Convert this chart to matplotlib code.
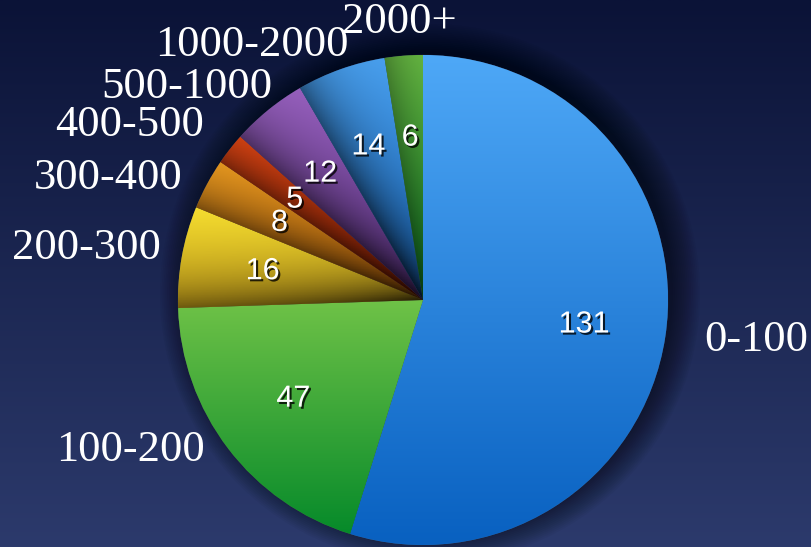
import numpy as np
import matplotlib
matplotlib.use("Agg")
import matplotlib.pyplot as plt
import matplotlib.patheffects as pe
from matplotlib.colors import to_rgb
from matplotlib.patches import Circle

# data
labels = ["0-100", "100-200", "200-300", "300-400", "400-500",
          "500-1000", "1000-2000", "2000+"]
values = [131, 47, 16, 8, 5, 12, 14, 6]

# wedge colours, top -> bottom of each wedge
top_cols = ["#4ea8f7", "#6fc247", "#f8e030", "#f5a222", "#f24c16",
            "#9a62c2", "#4aa2f2", "#6cc246"]
bot_cols = ["#0860c0", "#068a2a", "#d0a81c", "#d0700c", "#b02a06",
            "#64388e", "#1a6cc4", "#108828"]
shadow_amt = [0.0, 0.0, 0.85, 0.85, 0.85, 0.8, 0.85, 0.6]

# outer label positions (pixels, y from top)
label_xy = [(704, 340), (131, 450), (86, 248), (108, 178), (130, 125),
            (187, 87), (252, 45), (399, 22)]

W, H = 811, 547
cx, cy, R = 423, H - 300, 245

fig = plt.figure(figsize=(W / 100, H / 100), dpi=100)
ax = fig.add_axes([0, 0, 1, 1])
ax.set_xlim(0, W)
ax.set_ylim(0, H)
ax.axis("off")

# background gradient (dark on top, lighter at the bottom)
bg_top, bg_bot = np.array(to_rgb("#0b1337")), np.array(to_rgb("#2c3a6c"))
t = np.linspace(0, 1, 256)[:, None, None]
bg = bg_top * (1 - t) + bg_bot * t
ax.imshow(np.repeat(bg, 2, axis=1), extent=[0, W, 0, H], aspect="auto", zorder=0)

# soft shadow behind the pie, thrown up and to the right
for i in range(16):
    ax.add_patch(Circle((cx + 7, cy + 6), R - 2 + i * 1.8, color="black",
                        alpha=0.035, lw=0, zorder=1))

total = sum(values)
wedges, _, autotexts = ax.pie(
    values, startangle=90, counterclock=False, center=(cx, cy), radius=R,
    autopct=lambda p: f"{round(p * total / 100)}", pctdistance=0.665,
    wedgeprops=dict(linewidth=0.4, edgecolor="#222a44"),
    textprops=dict(color="white", fontsize=22, family="Liberation Sans"))
ax.set_xlim(0, W)
ax.set_ylim(0, H)
ax.set_aspect("equal")

# gradient fill for each wedge
n = 300
xs = np.linspace(cx - R, cx + R, n)
ys = np.linspace(cy + R, cy - R, n)
X, Y = np.meshgrid(xs, ys)
for w, c1, c2, s in zip(wedges, top_cols, bot_cols, shadow_amt):
    v = w.get_path().vertices
    y0, y1 = v[:, 1].min(), v[:, 1].max()
    vt = np.clip((y1 - Y) / (y1 - y0), 0, 1)[:, :, None]
    img = np.array(to_rgb(c1)) * (1 - vt) + np.array(to_rgb(c2)) * vt
    if s > 0:
        a = np.deg2rad(w.theta2)
        d = np.abs((X - cx) * np.sin(a) - (Y - cy) * np.cos(a))
        r = np.hypot(X - cx, Y - cy)
        shade = 1 - s * np.exp(-d / 28) * (0.5 + 0.5 * np.exp(-r / 120))
        img = img * shade[:, :, None]
    w.set_facecolor(c1)
    im = ax.imshow(img, extent=[cx - R, cx + R, cy - R, cy + R],
                   aspect="auto", zorder=2)
    im.set_clip_path(w)
    w.set_zorder(1.5)

for txt in autotexts:
    txt.set_zorder(4)
    txt.set_path_effects([pe.withSimplePatchShadow(offset=(1.5, -1.5),
                                                   shadow_rgbFace="black", alpha=0.8)])

for lab, (x, y) in zip(labels, label_xy):
    ha = "left" if lab == "0-100" else "center"
    ax.text(x, H - y, lab, color="white", fontsize=32, family="Liberation Serif",
            ha=ha, va="center", zorder=5)

fig.savefig("out.png", dpi=100)
